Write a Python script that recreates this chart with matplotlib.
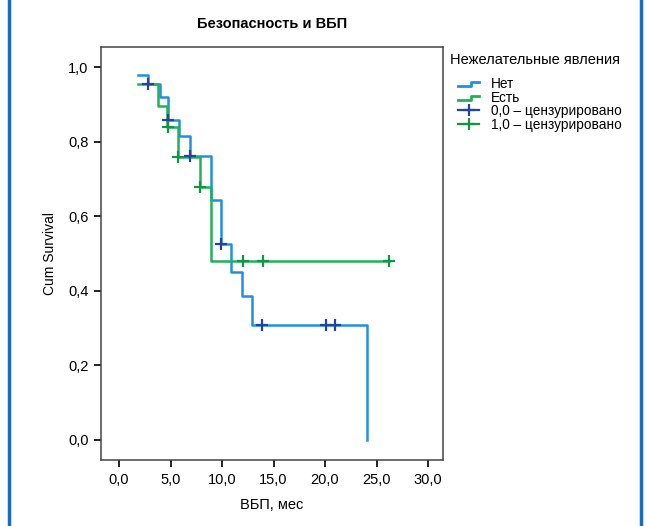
import numpy as np
import matplotlib
matplotlib.use("Agg")
import matplotlib.pyplot as plt
from matplotlib.lines import Line2D
from matplotlib.legend_handler import HandlerBase

plt.rcParams['font.family'] = ['Liberation Sans', 'DejaVu Sans']

# Kaplan-Meier steps: event times (months) and cumulative survival after each event
times_no = [1.8, 2.8, 4.0, 4.75, 5.8, 6.9, 8.9, 9.9, 10.9, 11.9, 12.9, 24.1]
surv_no = [0.979, 0.954, 0.920, 0.858, 0.815, 0.761, 0.643, 0.525, 0.451, 0.385, 0.308, 0.0]
cens_no = [2.8, 4.75, 6.9, 9.9, 13.9, 20.1, 21.0]

times_yes = [1.8, 3.8, 4.7, 5.75, 7.85, 8.9, 26.2]
surv_yes = [0.954, 0.895, 0.839, 0.760, 0.678, 0.481, 0.481]
cens_yes = [4.75, 5.75, 7.85, 12.0, 14.0, 26.2]

group_labels = ["Нет", "Есть", "0,0 – цензурировано", "1,0 – цензурировано"]
x_ticks = [0, 5, 10, 15, 20, 25, 30]
y_ticks = [0.0, 0.2, 0.4, 0.6, 0.8, 1.0]

c_no, c_no_cens = "#2190e2", "#23449c"
c_yes, c_yes_cens = "#1fb257", "#139447"


def surv_at(t_ev, s_ev, t):
    i = np.searchsorted(t_ev, t, side="right") - 1
    return np.array(s_ev)[i]


class StepHandler(HandlerBase):
    def create_artists(self, legend, orig_handle, xdescent, ydescent,
                       width, height, fontsize, trans):
        x0, x1 = -xdescent, -xdescent + width
        xm = x0 + 0.6 * width
        lo, hi = -ydescent + 0.2 * height, -ydescent + 0.6 * height
        ln = Line2D([x0, xm, xm, x1], [lo, lo, hi, hi],
                    color=orig_handle.get_color(), lw=2, transform=trans)
        return [ln]


fig = plt.figure(figsize=(6.46, 5.26), dpi=100)
ax = fig.add_axes([101 / 646, 1 - 460 / 526, 342 / 646, 413 / 526])

ax.step(times_no, surv_no, where="post", color=c_no, lw=1.8)
ax.step(times_yes, surv_yes, where="post", color=c_yes, lw=1.8)
ax.plot(cens_no, surv_at(times_no, surv_no, cens_no), ls="none", marker="+",
        ms=8, mew=1.6, color=c_no_cens)
ax.plot(cens_yes, surv_at(times_yes, surv_yes, cens_yes), ls="none", marker="+",
        ms=8, mew=1.6, color=c_yes_cens)

ax.set_xlim(-1.75, 31.45)
ax.set_ylim(-0.054, 1.054)
ax.set_xticks(x_ticks)
ax.set_xticklabels([f"{v:.1f}".replace(".", ",") for v in x_ticks])
ax.set_yticks(y_ticks)
ax.set_yticklabels([f"{v:.1f}".replace(".", ",") for v in y_ticks])
ax.tick_params(direction="out", length=5, width=1.4, labelsize=10.5, color="#222222", pad=4)
for sp in ax.spines.values():
    sp.set_linewidth(1.1)
    sp.set_color("#444444")

ax.set_title("Безопасность и ВБП", fontsize=10.5, fontweight="bold", pad=14)
ax.set_xlabel("ВБП, мес", fontsize=10.5)
ax.xaxis.set_label_coords(0.5, -0.092)
ax.set_ylabel("Cum Survival", fontsize=10)
ax.yaxis.set_label_coords(-0.13, 0.5)

# legend: title set apart, entries indented below it
fig.text(450 / 646, 1 - 60 / 526, "Нежелательные явления", fontsize=10.5,
         ha="left", va="center")
h_no = Line2D([], [], color=c_no)
h_yes = Line2D([], [], color=c_yes)
h_cno = Line2D([], [], color=c_no_cens, marker="+", ms=8, mew=1.6, lw=1.6)
h_cyes = Line2D([], [], color=c_yes_cens, marker="+", ms=8, mew=1.6, lw=1.6)
leg = fig.legend([h_no, h_yes, h_cno, h_cyes], group_labels,
                 loc="upper left", bbox_to_anchor=(458 / 646, 1 - 77 / 526),
                 frameon=False, fontsize=9.8, labelspacing=-0.03,
                 handlelength=1.55, handletextpad=0.85, numpoints=1,
                 borderaxespad=0, borderpad=0,
                 handler_map={h_no: StepHandler(), h_yes: StepHandler()})

# blue side rules of the page frame
for xf in (9 / 646, 641 / 646):
    fig.add_artist(Line2D([xf, xf], [0, 1], transform=fig.transFigure,
                          color="#1a6cc0", lw=2.5))

fig.savefig("out.png", dpi=100)
